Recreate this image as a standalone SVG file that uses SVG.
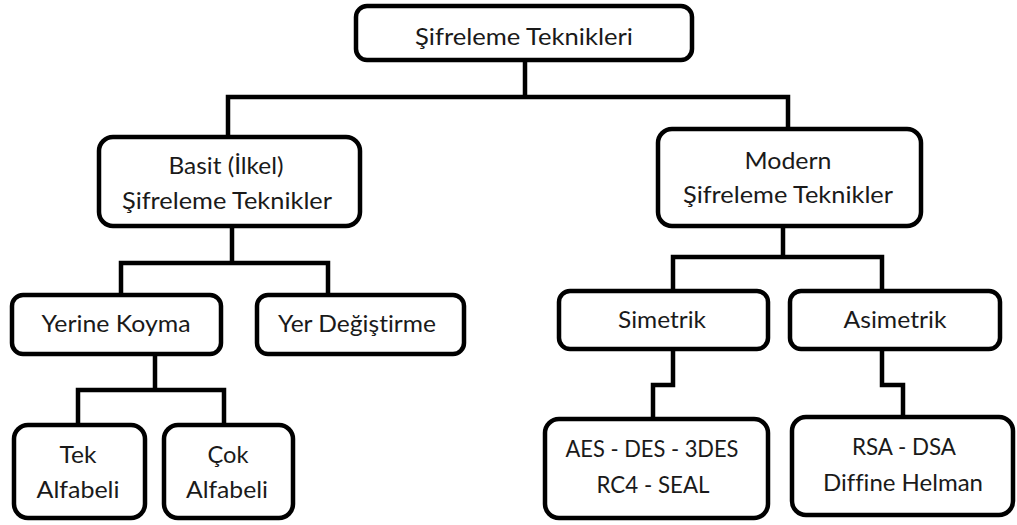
<svg xmlns="http://www.w3.org/2000/svg" width="1017" height="525" viewBox="0 0 1017 525">
  <style>
    .box { fill: #ffffff; stroke: #000000; stroke-width: 4.5; }
    .wire { fill: none; stroke: #000000; stroke-width: 4.5; stroke-linejoin: miter; stroke-linecap: square; }
    .label { font-family: "Lato", "Liberation Sans", sans-serif; font-size: 24px; fill: #1a1a1a; text-anchor: middle; font-variant-ligatures: none; }
  </style>
  <rect width="1017" height="525" fill="#ffffff"/>

  <!-- connectors -->
  <g id="connectors">
    <path class="wire" d="M525 60 V97 M228 97 H788 M228 97 V137 M788 97 V129"/>
    <path class="wire" d="M232 226 V263 M121 263 H328 M121 263 V295 M328 263 V295"/>
    <path class="wire" d="M783 226 V257 M673 257 H882 M673 257 V291 M882 257 V291"/>
    <path class="wire" d="M155 354 V390 M78 390 H224 M78 390 V425 M224 390 V425"/>
    <path class="wire" d="M673 349 V385 H653 V419"/>
    <path class="wire" d="M882 349 V385 H903 V417"/>
  </g>

  <g id="root">
    <rect class="box" x="356" y="6" width="336" height="54" rx="11"/>
    <text class="label" x="524" y="45" textLength="218" lengthAdjust="spacingAndGlyphs">Şifreleme Teknikleri</text>
  </g>

  <g id="basit">
    <rect class="box" x="99" y="137" width="261" height="89" rx="14"/>
    <text class="label" x="226" y="174" textLength="115" lengthAdjust="spacingAndGlyphs">Basit (İlkel)</text>
    <text class="label" x="227" y="209" textLength="210" lengthAdjust="spacingAndGlyphs">Şifreleme Teknikler</text>
  </g>

  <g id="modern">
    <rect class="box" x="658" y="129" width="263" height="97" rx="14"/>
    <text class="label" x="788" y="169" textLength="87" lengthAdjust="spacingAndGlyphs">Modern</text>
    <text class="label" x="788" y="203" textLength="210" lengthAdjust="spacingAndGlyphs">Şifreleme Teknikler</text>
  </g>

  <g id="yerine-koyma">
    <rect class="box" x="12" y="295" width="209" height="59" rx="11"/>
    <text class="label" x="116" y="332" textLength="149" lengthAdjust="spacingAndGlyphs">Yerine Koyma</text>
  </g>

  <g id="yer-degistirme">
    <rect class="box" x="257" y="295" width="207" height="59" rx="11"/>
    <text class="label" x="357" y="332" textLength="158" lengthAdjust="spacingAndGlyphs">Yer Değiştirme</text>
  </g>

  <g id="tek-alfabeli">
    <rect class="box" x="14" y="425" width="131" height="93" rx="14"/>
    <text class="label" x="78" y="463" textLength="37" lengthAdjust="spacingAndGlyphs">Tek</text>
    <text class="label" x="78" y="498" textLength="83" lengthAdjust="spacingAndGlyphs">Alfabeli</text>
  </g>

  <g id="cok-alfabeli">
    <rect class="box" x="164" y="425" width="129" height="93" rx="14"/>
    <text class="label" x="228" y="463" textLength="41" lengthAdjust="spacingAndGlyphs">Çok</text>
    <text class="label" x="227" y="498" textLength="82" lengthAdjust="spacingAndGlyphs">Alfabeli</text>
  </g>

  <g id="simetrik">
    <rect class="box" x="559" y="291" width="209" height="58" rx="11"/>
    <text class="label" x="662" y="328" textLength="88" lengthAdjust="spacingAndGlyphs">Simetrik</text>
  </g>

  <g id="asimetrik">
    <rect class="box" x="790" y="291" width="210" height="58" rx="11"/>
    <text class="label" x="895" y="328" textLength="103" lengthAdjust="spacingAndGlyphs">Asimetrik</text>
  </g>

  <g id="simetrik-algoritmalar">
    <rect class="box" x="545" y="419" width="223" height="99" rx="14"/>
    <text class="label" x="652" y="457" textLength="173" lengthAdjust="spacingAndGlyphs">AES - DES - 3DES</text>
    <text class="label" x="653" y="493" textLength="113" lengthAdjust="spacingAndGlyphs">RC4 - SEAL</text>
  </g>

  <g id="asimetrik-algoritmalar">
    <rect class="box" x="792" y="417" width="221" height="98" rx="14"/>
    <text class="label" x="904" y="455" textLength="104" lengthAdjust="spacingAndGlyphs">RSA - DSA</text>
    <text class="label" x="903" y="491" textLength="160" lengthAdjust="spacingAndGlyphs">Diffine Helman</text>
  </g>
</svg>
